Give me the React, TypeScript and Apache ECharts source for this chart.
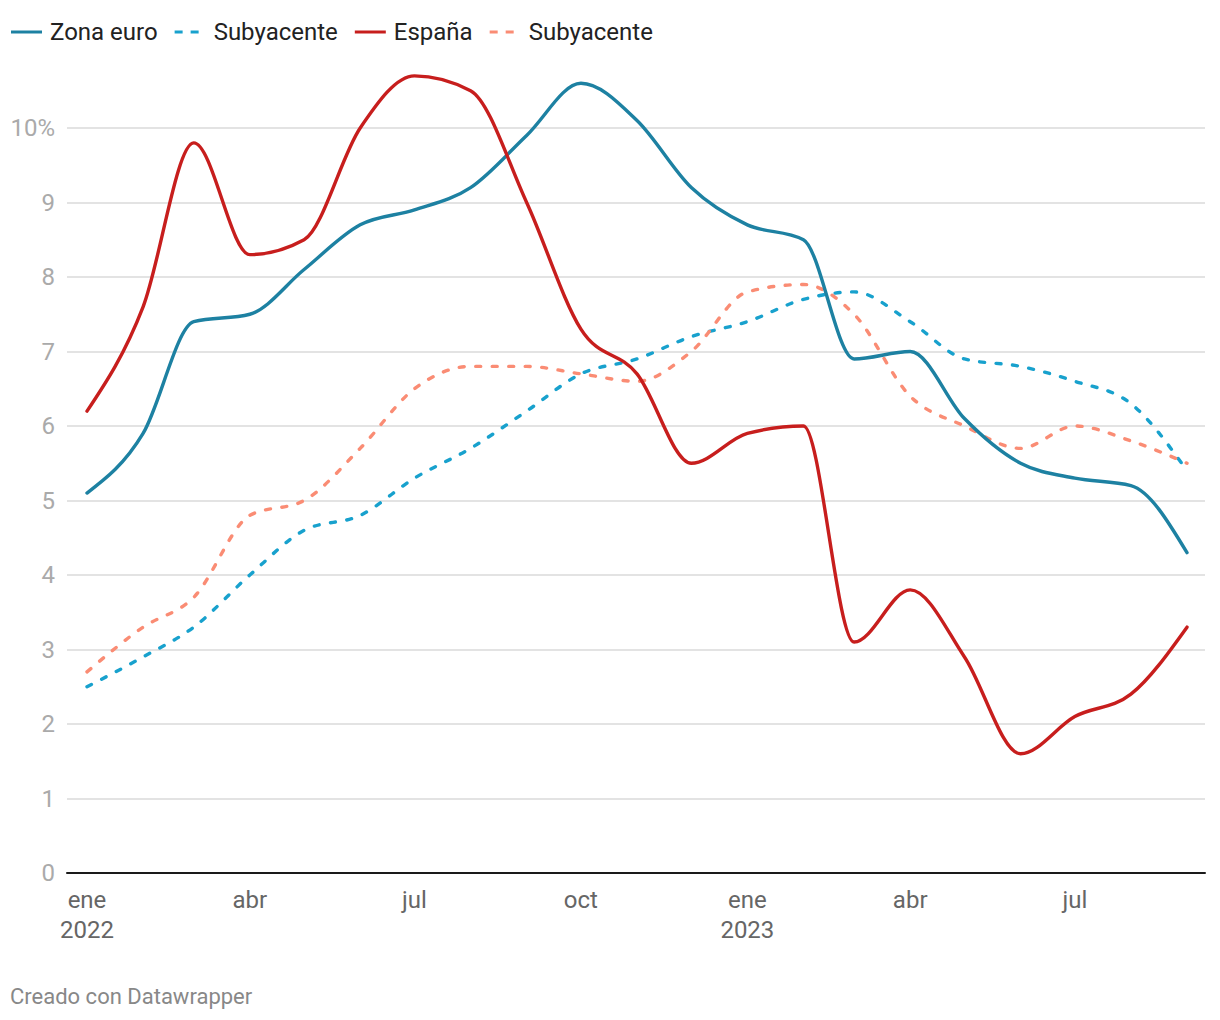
import React, { useEffect, useRef } from 'react';
import * as echarts from 'echarts';

// Monthly observations: ene 2022 ... sep 2023 (year, month index 0-11)
const monthYears = [
  2022, 2022, 2022, 2022, 2022, 2022, 2022, 2022, 2022, 2022, 2022, 2022,
  2023, 2023, 2023, 2023, 2023, 2023, 2023, 2023, 2023,
];
const monthNums = [0, 1, 2, 3, 4, 5, 6, 7, 8, 9, 10, 11, 0, 1, 2, 3, 4, 5, 6, 7, 8];
const xTickYears = [2022, 2022, 2022, 2022, 2023, 2023, 2023];
const xTickMonths = [0, 3, 6, 9, 0, 3, 6];
const xTickLabels = ['ene\n2022', 'abr', 'jul', 'oct', 'ene\n2023', 'abr', 'jul'];

const zonaEuro = [5.1, 5.9, 7.4, 7.5, 8.1, 8.7, 8.9, 9.2, 9.9, 10.6, 10.1, 9.2, 8.7, 8.5, 6.9, 7.0, 6.1, 5.5, 5.3, 5.2, 4.3];
const zonaEuroSub = [2.5, 2.9, 3.3, 4.0, 4.6, 4.8, 5.3, 5.7, 6.2, 6.7, 6.9, 7.2, 7.4, 7.7, 7.8, 7.4, 6.9, 6.8, 6.6, 6.3, 5.4];
const espana = [6.2, 7.6, 9.8, 8.3, 8.5, 10.0, 10.7, 10.5, 9.0, 7.3, 6.7, 5.5, 5.9, 6.0, 3.1, 3.8, 2.9, 1.6, 2.1, 2.4, 3.3];
const espanaSub = [2.7, 3.3, 3.7, 4.8, 5.0, 5.7, 6.5, 6.8, 6.8, 6.7, 6.6, 7.0, 7.8, 7.9, 7.5, 6.4, 6.0, 5.7, 6.0, 5.8, 5.5];

const C_EURO = '#1d81a2';
const C_EURO_SUB = '#18a1cd';
const C_ES = '#c71e1d';
const C_ES_SUB = '#fa8c74';

const DAY = 86400000;
const T0 = Date.UTC(2022, 0, 1);
const dayOf = (y: number, m: number) => (Date.UTC(y, m, 1) - T0) / DAY;
const xDays = monthYears.map((y, i) => dayOf(y, monthNums[i]));
const xTickDays = xTickYears.map((y, i) => dayOf(y, xTickMonths[i]));

// d3-style monotone X curve through screen points
function monotonePath(p: number[][]): string {
  const n = p.length;
  if (n < 2) return '';
  const sign = (x: number) => (x < 0 ? -1 : 1);
  const s: number[] = [];
  for (let i = 0; i < n - 1; i++) {
    const h = p[i + 1][0] - p[i][0];
    s.push(h ? (p[i + 1][1] - p[i][1]) / h : 0);
  }
  const t: number[] = new Array(n).fill(0);
  for (let i = 1; i < n - 1; i++) {
    const h0 = p[i][0] - p[i - 1][0];
    const h1 = p[i + 1][0] - p[i][0];
    const s0 = s[i - 1];
    const s1 = s[i];
    const pp = (s0 * h1 + s1 * h0) / (h0 + h1);
    t[i] = (sign(s0) + sign(s1)) * Math.min(Math.abs(s0), Math.abs(s1), 0.5 * Math.abs(pp)) || 0;
  }
  if (n > 2) {
    t[0] = (3 * s[0] - t[1]) / 2;
    t[n - 1] = (3 * s[n - 2] - t[n - 2]) / 2;
  } else {
    t[0] = s[0];
    t[1] = s[0];
  }
  let d = `M${p[0][0]},${p[0][1]}`;
  for (let i = 0; i < n - 1; i++) {
    const dx = (p[i + 1][0] - p[i][0]) / 3;
    d += ` C${p[i][0] + dx},${p[i][1] + dx * t[i]} ${p[i + 1][0] - dx},${p[i + 1][1] - dx * t[i + 1]} ${p[i + 1][0]},${p[i + 1][1]}`;
  }
  return d;
}

function makeSeries(name: string, values: number[], color: string, dashed: boolean, z: number) {
  return {
    type: 'custom',
    name,
    coordinateSystem: 'cartesian2d',
    clip: false,
    z,
    itemStyle: { color },
    data: [[xDays[0], values[0]]],
    encode: { x: 0, y: 1 },
    silent: true,
    renderItem: (params: any, api: any) => {
      if (params.dataIndex !== 0) return null;
      const pts = values.map((v, i) => api.coord([xDays[i], v]));
      return {
        type: 'path',
        shape: { pathData: monotonePath(pts) },
        style: {
          fill: 'none',
          stroke: color,
          lineWidth: 3.4,
          lineDash: dashed ? [5, 11.5] : null,
          lineCap: 'round',
          lineJoin: 'round',
        },
      };
    },
  };
}

const solidIcon = 'path://M0,0H31V3H0Z';
const dashIcon = 'path://M0,0H8V3H0Z M16,0H24V3H16Z M31,0L31,3';

export default function App() {
  const ref = useRef<HTMLDivElement>(null);

  useEffect(() => {
    document.body.style.margin = '0';
    if (!ref.current) return;
    const chart = echarts.init(ref.current, null, { renderer: 'svg' });
    const lastDay = xDays[xDays.length - 1];
    const pxPerDay = 1100 / lastDay;
    const option: any = {
      animation: false,
      backgroundColor: '#ffffff',
      textStyle: { fontFamily: 'Roboto' },
      grid: { left: 67, right: 15, top: 128, bottom: 147, containLabel: false },
      legend: {
        left: 6,
        top: 15,
        itemWidth: 31,
        itemHeight: 3,
        itemGap: 17,
        selectedMode: false,
        formatter: (n: string) => n.trim(),
        textStyle: { fontSize: 24, color: '#222222', fontFamily: 'Roboto', padding: [0, 0, 0, 3] },
        data: [
          { name: 'Zona euro', icon: solidIcon, itemStyle: { color: C_EURO } },
          { name: 'Subyacente', icon: dashIcon, itemStyle: { color: C_EURO_SUB } },
          { name: 'España', icon: solidIcon, itemStyle: { color: C_ES } },
          { name: 'Subyacente ', icon: dashIcon, itemStyle: { color: C_ES_SUB } },
        ],
      },
      xAxis: {
        type: 'value',
        min: -20 / pxPerDay,
        max: lastDay + 18 / pxPerDay,
        axisLine: { show: true, onZero: false, lineStyle: { color: '#1a1a1a', width: 2 } },
        axisTick: { show: false },
        splitLine: { show: false },
        axisLabel: {
          customValues: xTickDays,
          formatter: (v: number) => {
            let best = -1;
            xTickDays.forEach((d, k) => {
              if (Math.abs(d - v) < 1) best = k;
            });
            return best >= 0 ? xTickLabels[best] : '';
          },
          color: '#666666',
          fontSize: 24,
          lineHeight: 30,
          margin: 12,
          fontFamily: 'Roboto',
        },
      },
      yAxis: {
        type: 'value',
        min: 0,
        max: 10,
        interval: 1,
        axisLine: { show: false },
        axisTick: { show: false },
        splitLine: { lineStyle: { color: '#e3e3e3', width: 2 } },
        axisLabel: {
          formatter: (v: number) => (v === 10 ? '10%' : String(v)),
          color: '#aaaaaa',
          fontSize: 24,
          margin: 12,
          fontFamily: 'Roboto',
        },
      },
      graphic: [
        {
          type: 'text',
          left: 10,
          top: 985,
          style: { text: 'Creado con Datawrapper', fontSize: 22, fill: '#888888', fontFamily: 'Roboto' },
        },
      ],
      series: [
        makeSeries('Subyacente', zonaEuroSub, C_EURO_SUB, true, 2),
        makeSeries('Subyacente ', espanaSub, C_ES_SUB, true, 2),
        makeSeries('Zona euro', zonaEuro, C_EURO, false, 3),
        makeSeries('España', espana, C_ES, false, 3),
      ],
    };
    chart.setOption(option);
    return () => chart.dispose();
  }, []);

  return <div ref={ref} style={{ width: 1220, height: 1020 }} />;
}
